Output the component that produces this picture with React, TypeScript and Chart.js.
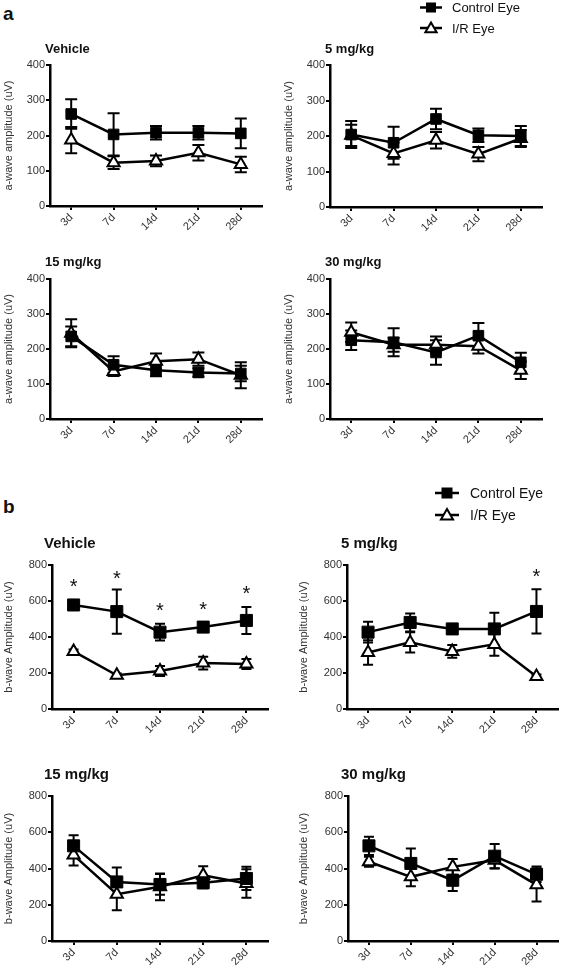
import React, { useEffect, useRef } from "react";
import { Chart, registerables } from "chart.js";

Chart.register(...registerables);

const FONT = "'Liberation Sans', Arial, Helvetica, sans-serif";

// Categories & ticks
const days = ["3d", "7d", "14d", "21d", "28d"];
const aTickStep = 100;
const aTickMax = 400;
const bTickStep = 200;
const bTickMax = 800;

// ---- a-wave amplitude (uV): mean and SEM ----
const aVehicleControl = [261, 203, 208, 208, 206];
const aVehicleControlErr = [42, 60, 19, 19, 42];
const aVehicleIR = [187, 123, 128, 151, 118];
const aVehicleIRErr = [37, 18, 15, 22, 22];

const a5Control = [204, 181, 248, 202, 200];
const a5ControlErr = [38, 45, 29, 19, 28];
const a5IR = [202, 151, 188, 149, 193];
const a5IRErr = [30, 31, 23, 20, 24];

const a15Control = [236, 155, 139, 133, 130];
const a15ControlErr = [28, 24, 17, 12, 22];
const a15IR = [245, 136, 165, 171, 125];
const a15IRErr = [40, 13, 22, 19, 37];

const a30Control = [225, 219, 190, 238, 162];
const a30ControlErr = [28, 40, 35, 36, 27];
const a30IR = [248, 212, 212, 208, 139];
const a30IRErr = [28, 20, 24, 21, 25];

// ---- b-wave Amplitude (uV): mean and SEM ----
const bVehicleControl = [578, 541, 427, 455, 492];
const bVehicleControlErr = [20, 123, 47, 15, 75];
const bVehicleIR = [320, 187, 211, 255, 250];
const bVehicleIRErr = [10, 10, 28, 35, 28];
const bVehicleStars = [708, 754, 573, 582, 667];

const b5Control = [427, 481, 445, 445, 542];
const b5ControlErr = [58, 50, 15, 90, 123];
const b5IR = [314, 370, 320, 359, 181];
const b5IRErr = [68, 56, 35, 63, 10];
const b5Stars = [null, null, null, null, 763];

const b15Control = [525, 326, 312, 321, 345];
const b15ControlErr = [58, 80, 57, 30, 64];
const b15IR = [474, 258, 299, 363, 317];
const b15IRErr = [58, 88, 74, 50, 79];

const b30Control = [525, 428, 335, 468, 368];
const b30ControlErr = [50, 83, 59, 67, 43];
const b30IR = [437, 354, 409, 446, 310];
const b30IRErr = [28, 52, 44, 46, 92];

const legendLabels = ["Control Eye", "I/R Eye"];

type LegendCfg = { x: number; y1: number; y2: number; size: number; lineHalf: number; textX: number; sq: number; tri: number };

type PanelCfg = {
  key: string;
  cell: [number, number, number, number];
  padTop: number;
  padRight: number;
  yWidth: number;
  xHeight: number;
  yMax: number;
  yStep: number;
  yTitle: string;
  title: string;
  titleSize: number;
  titleDx: number;
  titleDy: number;
  control: number[];
  controlErr: number[];
  ir: number[];
  irErr: number[];
  stars?: (number | null)[];
  legend?: LegendCfg;
  sqRadius: number;
  triRadius: number;
  cap: number;
};

const aLegend: LegendCfg = { x: 151, y1: 7.5, y2: 28, size: 13, lineHalf: 11, textX: 172, sq: 10, tri: 6.5 };
const bLegend: LegendCfg = { x: 152, y1: 43, y2: 65, size: 14, lineHalf: 12, textX: 175, sq: 11, tri: 7 };

const panels: PanelCfg[] = [
  {
    key: "aV", cell: [0, 0, 280, 232], padTop: 65, padRight: 18, yWidth: 50, xHeight: 26,
    yMax: aTickMax, yStep: aTickStep, yTitle: "a-wave amplitude (uV)", title: "Vehicle", titleSize: 13, titleDx: -5, titleDy: 12,
    control: aVehicleControl, controlErr: aVehicleControlErr, ir: aVehicleIR, irErr: aVehicleIRErr,
    sqRadius: 7.5, triRadius: 7, cap: 6,
  },
  {
    key: "a5", cell: [280, 0, 287, 232], padTop: 65, padRight: 25, yWidth: 50, xHeight: 25,
    yMax: aTickMax, yStep: aTickStep, yTitle: "a-wave amplitude (uV)", title: "5 mg/kg", titleSize: 13, titleDx: -5, titleDy: 12,
    control: a5Control, controlErr: a5ControlErr, ir: a5IR, irErr: a5IRErr, legend: aLegend,
    sqRadius: 7.5, triRadius: 7, cap: 6,
  },
  {
    key: "a15", cell: [0, 232, 280, 218], padTop: 47, padRight: 18, yWidth: 50, xHeight: 31,
    yMax: aTickMax, yStep: aTickStep, yTitle: "a-wave amplitude (uV)", title: "15 mg/kg", titleSize: 13, titleDx: -5, titleDy: 13,
    control: a15Control, controlErr: a15ControlErr, ir: a15IR, irErr: a15IRErr,
    sqRadius: 7.5, triRadius: 7, cap: 6,
  },
  {
    key: "a30", cell: [280, 232, 287, 218], padTop: 47, padRight: 25, yWidth: 50, xHeight: 31,
    yMax: aTickMax, yStep: aTickStep, yTitle: "a-wave amplitude (uV)", title: "30 mg/kg", titleSize: 13, titleDx: -5, titleDy: 13,
    control: a30Control, controlErr: a30ControlErr, ir: a30IR, irErr: a30IRErr,
    sqRadius: 7.5, triRadius: 7, cap: 6,
  },
  {
    key: "bV", cell: [0, 450, 295, 285], padTop: 115, padRight: 27, yWidth: 52, xHeight: 26,
    yMax: bTickMax, yStep: bTickStep, yTitle: "b-wave Amplitude (uV)", title: "Vehicle", titleSize: 15, titleDx: -8, titleDy: 17,
    control: bVehicleControl, controlErr: bVehicleControlErr, ir: bVehicleIR, irErr: bVehicleIRErr, stars: bVehicleStars,
    sqRadius: 8.5, triRadius: 7, cap: 5,
  },
  {
    key: "b5", cell: [295, 450, 272, 285], padTop: 115, padRight: 2, yWidth: 52, xHeight: 26,
    yMax: bTickMax, yStep: bTickStep, yTitle: "b-wave Amplitude (uV)", title: "5 mg/kg", titleSize: 15, titleDx: -6, titleDy: 17,
    control: b5Control, controlErr: b5ControlErr, ir: b5IR, irErr: b5IRErr, stars: b5Stars, legend: bLegend,
    sqRadius: 8.5, triRadius: 7, cap: 5,
  },
  {
    key: "b15", cell: [0, 735, 295, 233], padTop: 61, padRight: 27, yWidth: 52, xHeight: 27,
    yMax: bTickMax, yStep: bTickStep, yTitle: "b-wave Amplitude (uV)", title: "15 mg/kg", titleSize: 15, titleDx: -8, titleDy: 17,
    control: b15Control, controlErr: b15ControlErr, ir: b15IR, irErr: b15IRErr,
    sqRadius: 8.5, triRadius: 7, cap: 5,
  },
  {
    key: "b30", cell: [295, 735, 272, 233], padTop: 61, padRight: 2, yWidth: 53, xHeight: 27,
    yMax: bTickMax, yStep: bTickStep, yTitle: "b-wave Amplitude (uV)", title: "30 mg/kg", titleSize: 15, titleDx: -7, titleDy: 17,
    control: b30Control, controlErr: b30ControlErr, ir: b30IR, irErr: b30IRErr,
    sqRadius: 8.5, triRadius: 7, cap: 5,
  },
];

function drawTriangle(ctx: CanvasRenderingContext2D, x: number, y: number, r: number) {
  ctx.beginPath();
  for (let k = 0; k < 3; k++) {
    const a = (k * 2 * Math.PI) / 3;
    const px = x + Math.sin(a) * r;
    const py = y - Math.cos(a) * r;
    if (k === 0) ctx.moveTo(px, py);
    else ctx.lineTo(px, py);
  }
  ctx.closePath();
  ctx.fillStyle = "#fff";
  ctx.fill();
  ctx.strokeStyle = "#000";
  ctx.lineWidth = 2;
  ctx.stroke();
}

function makePlugin(p: PanelCfg) {
  return {
    id: "decor_" + p.key,
    beforeDatasetsDraw(chart: any) {
      const ctx: CanvasRenderingContext2D = chart.ctx;
      const ys = chart.scales.y;
      ctx.save();
      ctx.strokeStyle = "#000";
      ctx.lineWidth = 2;
      const sets: [number[], number[], number][] = [
        [p.ir, p.irErr, 1],
        [p.control, p.controlErr, 0],
      ];
      sets.forEach(([vals, errs, idx]) => {
        const meta = chart.getDatasetMeta(idx);
        vals.forEach((v, j) => {
          const x = meta.data[j].x;
          const yt = ys.getPixelForValue(v + errs[j]);
          const yb = ys.getPixelForValue(v - errs[j]);
          ctx.beginPath();
          ctx.moveTo(x, yt);
          ctx.lineTo(x, yb);
          ctx.moveTo(x - p.cap, yt);
          ctx.lineTo(x + p.cap, yt);
          ctx.moveTo(x - p.cap, yb);
          ctx.lineTo(x + p.cap, yb);
          ctx.stroke();
        });
      });
      ctx.restore();
    },
    afterDraw(chart: any) {
      const ctx: CanvasRenderingContext2D = chart.ctx;
      const area = chart.chartArea;
      ctx.save();
      // panel title
      ctx.fillStyle = "#111";
      ctx.font = `bold ${p.titleSize}px ${FONT}`;
      ctx.textAlign = "left";
      ctx.textBaseline = "alphabetic";
      ctx.fillText(p.title, area.left + p.titleDx, area.top - p.titleDy);
      // significance stars
      if (p.stars) {
        const xs = chart.scales.x;
        const ys = chart.scales.y;
        ctx.font = `20px ${FONT}`;
        ctx.textAlign = "center";
        p.stars.forEach((s, j) => {
          if (s == null) return;
          ctx.fillText("*", xs.getPixelForValue(j), ys.getPixelForValue(s) + 11.5);
        });
      }
      // legend
      if (p.legend) {
        const L = p.legend;
        ctx.strokeStyle = "#000";
        ctx.lineWidth = 2.5;
        ctx.beginPath();
        ctx.moveTo(L.x - L.lineHalf, L.y1);
        ctx.lineTo(L.x + L.lineHalf, L.y1);
        ctx.moveTo(L.x - L.lineHalf, L.y2);
        ctx.lineTo(L.x + L.lineHalf, L.y2);
        ctx.stroke();
        ctx.fillStyle = "#000";
        ctx.fillRect(L.x - L.sq / 2, L.y1 - L.sq / 2, L.sq, L.sq);
        drawTriangle(ctx, L.x, L.y2 + 1, L.tri);
        ctx.fillStyle = "#111";
        ctx.font = `${L.size}px ${FONT}`;
        ctx.textAlign = "left";
        ctx.textBaseline = "middle";
        ctx.fillText(legendLabels[0], L.textX, L.y1 + 1);
        ctx.fillText(legendLabels[1], L.textX, L.y2 + 1);
      }
      ctx.restore();
    },
  };
}

function PanelChart({ p }: { p: PanelCfg }) {
  const ref = useRef<HTMLCanvasElement | null>(null);
  useEffect(() => {
    if (!ref.current) return;
    const tickFont = { family: FONT, size: 11 };
    const chart = new Chart(ref.current, {
      type: "line",
      data: {
        labels: days,
        datasets: [
          {
            label: legendLabels[0],
            data: p.control,
            borderColor: "#000",
            borderWidth: 2.5,
            pointStyle: "rect",
            pointRadius: p.sqRadius,
            pointBackgroundColor: "#000",
            pointBorderColor: "#000",
            pointBorderWidth: 1,
            tension: 0,
            fill: false,
          },
          {
            label: legendLabels[1],
            data: p.ir,
            borderColor: "#000",
            borderWidth: 2.5,
            pointStyle: "triangle",
            pointRadius: p.triRadius,
            pointBackgroundColor: "#fff",
            pointBorderColor: "#000",
            pointBorderWidth: 2,
            tension: 0,
            fill: false,
          },
        ],
      },
      options: {
        responsive: false,
        animation: false,
        layout: { padding: { top: p.padTop, right: p.padRight, left: 0, bottom: 0 } },
        plugins: { legend: { display: false }, tooltip: { enabled: false }, title: { display: false } },
        scales: {
          x: {
            type: "category",
            offset: true,
            grid: { display: true, drawOnChartArea: false, drawTicks: true, tickLength: 4, color: "#000", lineWidth: 2, offset: false },
            border: { display: true, color: "#000", width: 2.5 },
            ticks: { color: "#333", font: tickFont, minRotation: 45, maxRotation: 45, autoSkip: false, padding: 1 },
            afterFit: (s: any) => {
              s.height = p.xHeight;
            },
          },
          y: {
            min: 0,
            max: p.yMax,
            grid: { display: true, drawOnChartArea: false, drawTicks: true, tickLength: 4, color: "#000", lineWidth: 2 },
            border: { display: true, color: "#000", width: 2.5 },
            ticks: { stepSize: p.yStep, color: "#333", font: tickFont, padding: 1 },
            title: { display: true, text: p.yTitle, color: "#333", font: tickFont, padding: { top: 2, bottom: 0 } },
            afterFit: (s: any) => {
              s.width = p.yWidth;
            },
          },
        },
      } as any,
      plugins: [makePlugin(p)],
    });
    return () => chart.destroy();
  }, [p]);
  const [left, top, w, h] = p.cell;
  return (
    <canvas
      ref={ref}
      width={w}
      height={h}
      style={{ position: "absolute", left, top, width: w, height: h }}
    />
  );
}

export default function App() {
  return (
    <div style={{ position: "absolute", left: 0, top: 0, width: 567, height: 968, background: "#fff", overflow: "hidden" }}>
      <div style={{ position: "absolute", left: 3, top: 4, font: `bold 19px ${FONT}`, lineHeight: "19px", color: "#111" }}>a</div>
      <div style={{ position: "absolute", left: 3, top: 497, font: `bold 19px ${FONT}`, lineHeight: "19px", color: "#111" }}>b</div>
      {panels.map((p) => (
        <PanelChart key={p.key} p={p} />
      ))}
    </div>
  );
}
